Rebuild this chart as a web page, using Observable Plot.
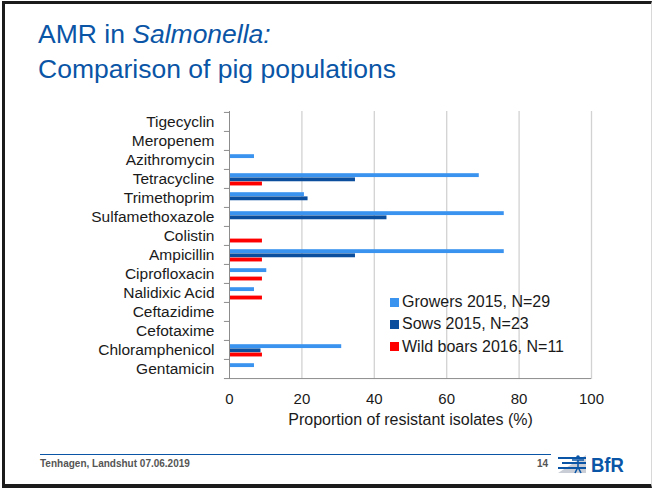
<!DOCTYPE html>
<html><head><meta charset="utf-8">
<script src="https://cdn.jsdelivr.net/npm/d3@7"></script>
<script src="https://cdn.jsdelivr.net/npm/@observablehq/plot@0.6"></script>
<style>
body{margin:0;background:#fff;font-family:"Liberation Sans",Arial,sans-serif;}
#slide{position:relative;width:652px;height:488px;overflow:hidden;background:#fff}
#frame{position:absolute;left:2px;top:1px;width:650px;height:487px;box-sizing:border-box;border:3px solid #1b1b1b;border-right:1px solid #d8d8d8;border-bottom:4px solid #1b1b1b}
.title{position:absolute;left:38px;color:#0a55a6;font-size:26.5px;white-space:nowrap;line-height:1}
#t1{top:21px}
#t2{top:56px}
#chart{position:absolute;left:0;top:100px}
#legend{position:absolute;left:390px;top:291px;font-size:16px;color:#1a1a1a}
#legend .row{height:22.3px;display:flex;align-items:center;white-space:nowrap}
#legend .sw{width:9px;height:9px;margin-right:3px}
#footline{position:absolute;left:40px;top:454px;width:511px;height:0;border-top:1.5px solid #0a55a6}
#foottext{position:absolute;left:40px;top:458px;font-size:10px;font-weight:bold;color:#555}
#page{position:absolute;left:537px;top:458px;font-size:10px;font-weight:bold;color:#555}
#logo{position:absolute;left:558px;top:453px;width:80px;height:22px}
#bfr{position:absolute;left:33px;top:1px;font-size:21px;font-weight:bold;color:#0a55a6;line-height:1;transform:scaleX(0.88);transform-origin:0 0;white-space:nowrap}
</style></head><body>
<div id="slide">
 <div id="frame"></div>
 <div class="title" id="t1">AMR in <i>Salmonella:</i></div>
 <div class="title" id="t2">Comparison of pig populations</div>
 <div id="chart"></div>
 <div id="legend"></div>
 <div id="footline"></div>
 <div id="foottext">Tenhagen, Landshut 07.06.2019</div>
 <div id="page">14</div>
 <div id="logo">
  <svg width="30" height="22" viewBox="0 0 30 22" style="position:absolute;left:0;top:0">
   <polygon points="0,20 28,2 28,20" fill="#c9ced6"/>
   <rect x="0" y="4" width="28" height="2" fill="#0a55a6"/>
   <rect x="4" y="9" width="24" height="2" fill="#0a55a6"/>
   <rect x="0" y="14" width="28" height="2" fill="#0a55a6"/>
   <circle cx="20" cy="4" r="1.8" fill="#0a55a6"/>
   <path d="M14,7 L26,7 M20,7 L20,14 M20,14 L17,20 M20,14 L23,20" stroke="#0a55a6" stroke-width="1.6" fill="none"/>
  </svg>
  <div id="bfr">BfR</div>
 </div>
</div>
<script>
const drugs = ["Tigecyclin","Meropenem","Azithromycin","Tetracycline","Trimethoprim","Sulfamethoxazole","Colistin","Ampicillin","Ciprofloxacin","Nalidixic Acid","Ceftazidime","Cefotaxime","Chloramphenicol","Gentamicin"];
const series = ["Growers 2015, N=29","Sows 2015, N=23","Wild boars 2016, N=11"];
const growers   = [0, 0, 6.9, 69.0, 20.7, 75.9, 0, 75.9, 10.3, 6.9, 0, 0, 31.0, 6.9];
const sows      = [0, 0, 0, 34.8, 21.7, 43.5, 0, 34.8, 0, 0, 0, 0, 8.7, 0];
const wildBoars = [0, 0, 0, 9.1, 0, 0, 9.1, 9.1, 9.1, 9.1, 0, 0, 9.1, 0];
const xTicks = [0, 20, 40, 60, 80, 100];
const colors = ["#3b93f0", "#0b4e9e", "#fe0000"];

const values = [growers, sows, wildBoars];
const rows = [];
series.forEach((s, si) => drugs.forEach((d, di) => {
  if (values[si][di] > 0) rows.push({drug: d, series: s, value: values[si][di]});
}));

const H = 329, mt = 11, mb = 50;
const bw = (H - mt - mb) / drugs.length;
const insets = [[4.2, bw - 8.2], [8.4, bw - 12.4], [12.6, bw - 16.6]];

const plot = Plot.plot({
  width: 652, height: H,
  marginLeft: 229, marginRight: 61, marginTop: mt, marginBottom: mb,
  style: {fontFamily: "Liberation Sans, Arial, sans-serif", fontSize: "15px", color: "#1a1a1a", background: "transparent", overflow: "visible"},
  x: {domain: [0, 100]},
  y: {domain: drugs, padding: 0},
  color: {domain: series, range: colors},
  marks: [
    Plot.ruleX(xTicks.filter(t => t > 0), {stroke: "#d2d2d2", strokeWidth: 1.3}),
    ...series.map((s, si) => Plot.barX(rows.filter(r => r.series === s), {
      x: "value", y: "drug", fill: "series",
      insetTop: insets[si][0], insetBottom: insets[si][1]
    })),
    Plot.ruleX([0], {stroke: "#8c8c8c"}),
    Plot.ruleY(drugs, {y: d => d, x1: -1.4, x2: 0, dy: -bw / 2, stroke: "#8c8c8c"}),
    Plot.ruleY(drugs.slice(-1), {y: d => d, x1: -1.4, x2: 100, dy: bw / 2, stroke: "#8c8c8c"}),
    Plot.axisX({ticks: xTicks, tickSize: 0, tickPadding: 14, fontSize: 15, label: null}),
    Plot.axisX({ticks: [], tickSize: 0, fontSize: 16,
      label: "Proportion of resistant isolates (%)", labelAnchor: "center", labelArrow: "none", labelOffset: 45}),
    Plot.axisY({tickSize: 0, tickPadding: 15, fontSize: 15.5, label: null})
  ]
});
document.getElementById("chart").appendChild(plot);

const leg = document.getElementById("legend");
series.forEach((s, i) => {
  const row = document.createElement("div");
  row.className = "row";
  const sw = document.createElement("span");
  sw.className = "sw"; sw.style.background = colors[i];
  const tx = document.createElement("span");
  tx.textContent = s;
  row.appendChild(sw); row.appendChild(tx);
  leg.appendChild(row);
});
</script>
</body></html>
